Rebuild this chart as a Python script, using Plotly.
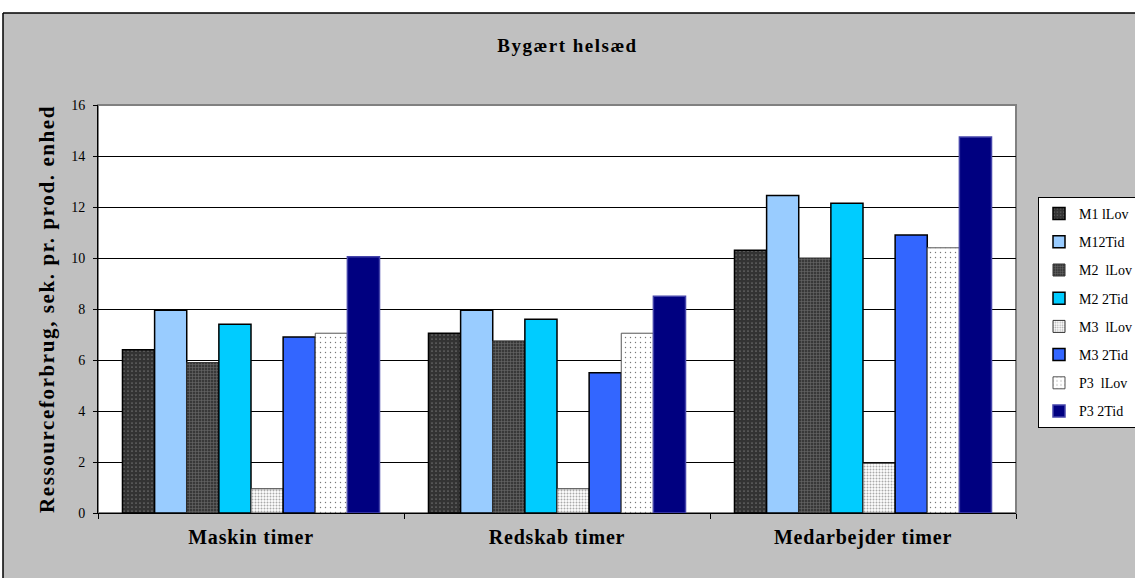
import plotly.graph_objects as go

categories = ["Maskin timer", "Redskab timer", "Medarbejder timer"]
series_names = ["M1 lLov", "M12Tid", "M2  lLov", "M2 2Tid", "M3  lLov", "M3 2Tid", "P3  lLov", "P3 2Tid"]
m1_lov = [6.4, 7.05, 10.3]
m1_tid = [7.95, 7.95, 12.45]
m2_lov = [5.9, 6.75, 10.0]
m2_tid = [7.4, 7.6, 12.15]
m3_lov = [0.95, 0.95, 1.95]
m3_tid = [6.9, 5.5, 10.9]
p3_lov = [7.05, 7.05, 10.4]
p3_tid = [10.05, 8.5, 14.75]
values = [m1_lov, m1_tid, m2_lov, m2_tid, m3_lov, m3_tid, p3_lov, p3_tid]

styles = [
    dict(color="#333333", pattern=dict(shape=".", fgcolor="#d0d0d0", bgcolor="#333333", size=4, solidity=0.05, fillmode="replace"), line=dict(color="black", width=1.5)),
    dict(color="#99CCFF", line=dict(color="black", width=1.5)),
    dict(color="#444444", pattern=dict(shape="+", fgcolor="#6a6a6a", bgcolor="#383838", size=3, solidity=0.35, fillmode="replace"), line=dict(color="#333333", width=1)),
    dict(color="#00CCFF", line=dict(color="black", width=1.5)),
    dict(color="#ffffff", pattern=dict(shape=".", fgcolor="#aaaaaa", bgcolor="#ffffff", size=3, solidity=0.35, fillmode="replace"), line=dict(color="#333333", width=1)),
    dict(color="#3366FF", line=dict(color="black", width=1.5)),
    dict(color="#ffffff", pattern=dict(shape=".", fgcolor="#777777", bgcolor="#ffffff", size=5, solidity=0.06, fillmode="replace"), line=dict(color="#555555", width=1)),
    dict(color="#000080", line=dict(color="#4444aa", width=1.5)),
]

fig = go.Figure()
for name, vals, st in zip(series_names, values, styles):
    fig.add_trace(go.Bar(x=categories, y=vals, name=name, marker=st, legendgroup=name))

L, R, T, B = 98, 119, 105, 65
W, H = 1135, 578
pw, ph = W - L - R, H - T - B
def px_x(p):
    return (p - L) / pw
def px_y(p):
    return (H - B - p) / ph

serif = "Liberation Serif, Times New Roman, serif"
fig.update_layout(
    width=W, height=H,
    margin=dict(l=L, r=R, t=T, b=B, autoexpand=False),
    paper_bgcolor="#C0C0C0",
    plot_bgcolor="white",
    barmode="group", bargap=0.16, bargroupgap=0,
    font=dict(family=serif, color="black"),
    title=dict(text="<b>Bygært helsæd</b>", x=0.5, xref="container", xanchor="center",
               y=1 - 45 / H, yanchor="middle", font=dict(size=19, family=serif)),
    showlegend=True,
    legend=dict(x=1038 / W, y=1 - 197 / H, xref="container", yref="container",
                xanchor="left", yanchor="top",
                bgcolor="white", bordercolor="black", borderwidth=1,
                font=dict(size=14, family=serif), tracegroupgap=7,
                traceorder="grouped", itemwidth=30),
    xaxis=dict(showline=True, linecolor="black", linewidth=1, ticks="outside", tickson="boundaries",
               ticklen=5, tickcolor="black", tickfont=dict(size=20, family=serif),
               ticklabelstandoff=6,
               tickprefix="<b>", ticksuffix="</b>", mirror=False),
    yaxis=dict(range=[0, 16], dtick=2, showline=True, linecolor="black", linewidth=1,
               ticks="outside", ticklen=4, tickcolor="black", showgrid=True, gridcolor="black",
               gridwidth=1, tickfont=dict(size=14, family=serif), zeroline=False,
               ticklabelstandoff=5,
               title=dict(text="<b>Ressourceforbrug, sek. pr. prod. enhed</b>",
                          font=dict(size=21, family=serif), standoff=10)),
    shapes=[
        dict(type="rect", xref="paper", yref="paper", x0=-0.2, x1=1.3, y0=px_y(13), y1=px_y(-20),
             fillcolor="white", line=dict(width=0), layer="below"),
        dict(type="rect", xref="paper", yref="paper", x0=px_x(-20), x1=px_x(3), y0=px_y(600), y1=px_y(13),
             fillcolor="white", line=dict(width=0), layer="below"),
        dict(type="line", xref="paper", yref="paper", x0=px_x(3), x1=1.3, y0=px_y(13), y1=px_y(13),
             line=dict(color="black", width=1.5)),
        dict(type="line", xref="paper", yref="paper", x0=px_x(3), x1=px_x(3), y0=px_y(600), y1=px_y(13),
             line=dict(color="black", width=1.5)),
        dict(type="rect", xref="paper", yref="paper", x0=0, x1=1, y0=0, y1=1,
             line=dict(color="#808080", width=2), layer="below"),
    ],
)

post = """
document.body.style.margin='0';
function sp(sel, v){document.querySelectorAll(sel).forEach(function(t){t.style.letterSpacing=v;});}
sp('.g-ytitle text', '1.6px');
sp('.xtick text', '0.8px');
sp('.gtitle', '1.5px');
"""
fig.write_html("out.html", post_script=post, config={"displayModeBar": False})
